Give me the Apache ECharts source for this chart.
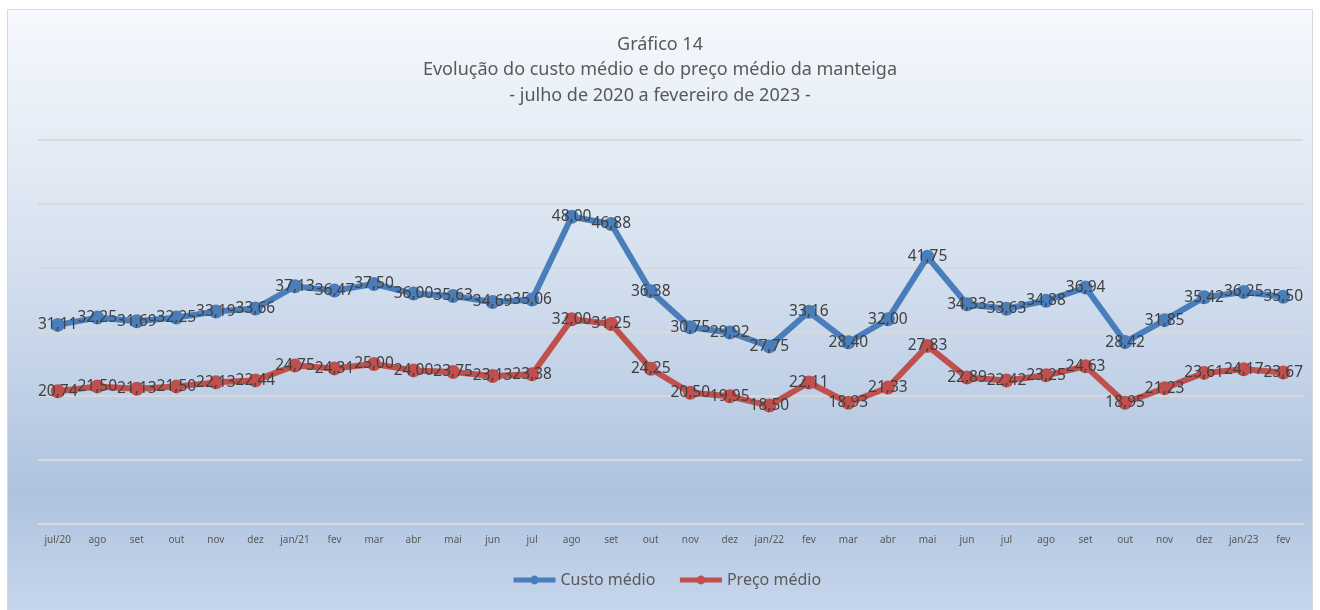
<!DOCTYPE html>
<html>
<head>
<meta charset="utf-8">
<script src="https://cdn.jsdelivr.net/npm/echarts@6/dist/echarts.min.js"></script>
<style>
html,body{margin:0;padding:0;background:#fff;}
#c{width:1320px;height:610px;}
</style>
</head>
<body>
<div id="c"></div>
<script>
const categories = ['jul/20','ago','set','out','nov','dez','jan/21','fev','mar','abr','mai','jun','jul','ago','set','out','nov','dez','jan/22','fev','mar','abr','mai','jun','jul','ago','set','out','nov','dez','jan/23','fev'];
const custoMedio = [31.11,32.25,31.69,32.25,33.19,33.66,37.13,36.47,37.50,36.00,35.63,34.69,35.06,48.00,46.88,36.38,30.75,29.92,27.75,33.16,28.40,32.00,41.75,34.33,33.63,34.88,36.94,28.42,31.85,35.42,36.25,35.50];
const precoMedio = [20.74,21.50,21.13,21.50,22.13,22.44,24.75,24.31,25.00,24.00,23.75,23.13,23.38,32.00,31.25,24.25,20.50,19.95,18.50,22.11,18.93,21.33,27.83,22.89,22.42,23.25,24.63,18.95,21.23,23.61,24.17,23.67];
const titleLines = ['Gráfico 14','Evolução do custo médio e do preço médio da manteiga','- julho de 2020 a fevereiro de 2023 -'];

const FONT = '"Noto Sans", "Open Sans", sans-serif';
const fmt = p => p.value.toFixed(2).replace('.', ',');
const chart = echarts.init(document.getElementById('c'), null, {renderer:'canvas'});

function mkSeries(name, data, color){
  return {
    name, type:'line', data,
    symbol:'circle', symbolSize:14,
    lineStyle:{width:6, color},
    itemStyle:{color},
    label:{show:true, position:'inside', formatter:fmt, fontSize:15.5, color:'#404040', fontFamily:FONT},
    emphasis:{disabled:true},
    z:3
  };
}

chart.setOption({
  animation:false,
  textStyle:{fontFamily:FONT},
  graphic:[{
    type:'rect', z:-10, silent:true,
    shape:{x:7.5,y:9.5,width:1305,height:602},
    style:{
      fill:new echarts.graphic.LinearGradient(0,0,0,1,[
        {offset:0,color:'#f6f9fd'},
        {offset:0.4,color:'#d7e2f0'},
        {offset:0.8,color:'#afc3df'},
        {offset:1,color:'#c6d6ec'}
      ]),
      stroke:'#d9d9d9', lineWidth:1
    }
  }],
  title:{
    text:titleLines.join('\n'),
    left:'center', top:27,
    textStyle:{fontSize:18, fontWeight:'normal', color:'#595959', lineHeight:25.5, fontFamily:FONT}
  },
  legend:{
    bottom:17, left:506,
    itemWidth:42, itemHeight:11, itemGap:22,
    lineStyle:{width:5},
    textStyle:{fontSize:16, color:'#595959', fontFamily:FONT},
    data:['Custo médio','Preço médio']
  },
  grid:{left:38, right:17, top:140, bottom:86, containLabel:false},
  xAxis:{
    type:'category', data:categories, boundaryGap:true,
    axisLine:{show:true, lineStyle:{color:'#d9d9d9', width:2}},
    axisTick:{show:false},
    axisLabel:{fontSize:10, color:'#595959', margin:11, interval:0, fontFamily:FONT}
  },
  yAxis:{
    type:'value', min:0, max:60, interval:10,
    axisLabel:{show:false}, axisLine:{show:false}, axisTick:{show:false},
    splitLine:{lineStyle:{color:'#d9d9d9', width:2}}
  },
  series:[
    mkSeries('Custo médio', custoMedio, '#4a7ebb'),
    mkSeries('Preço médio', precoMedio, '#c0504d')
  ]
});
</script>
</body>
</html>
